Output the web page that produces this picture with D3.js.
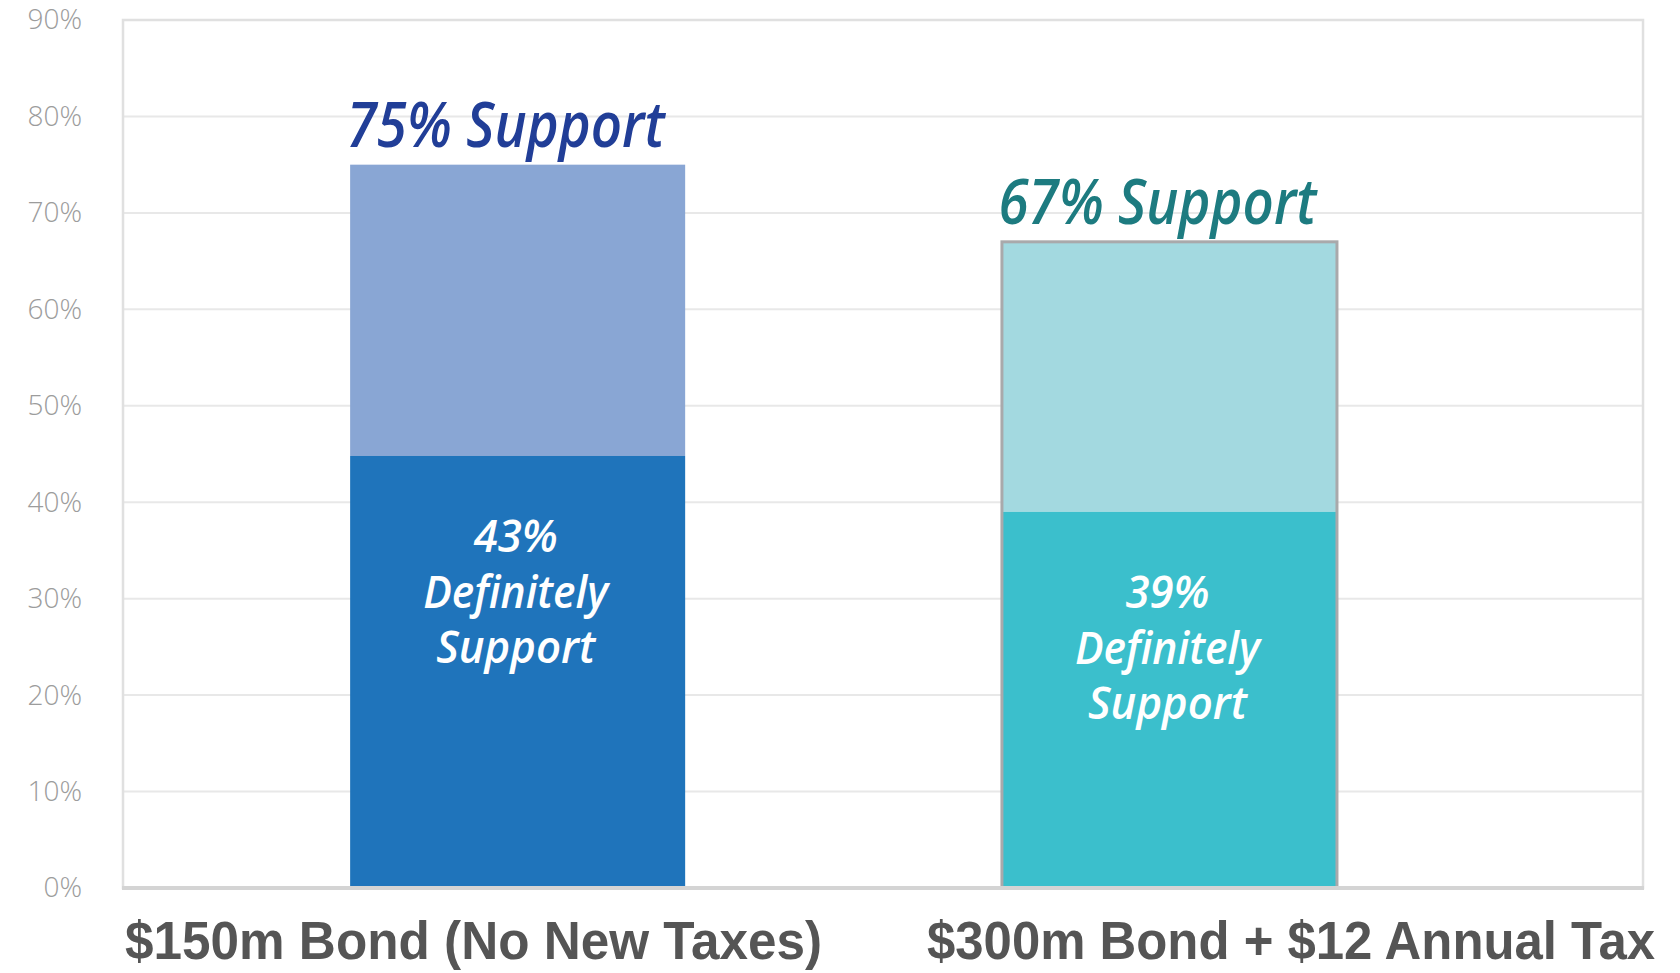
<!DOCTYPE html>
<html>
<head>
<meta charset="utf-8">
<script src="https://cdn.jsdelivr.net/npm/d3@7"></script>
<style>
    body { margin: 0; background: #fff; }
    .ytick text { font-family: "Open Sans", sans-serif; font-weight: 300; }
</style>
</head>
<body>
<div id="chart"></div>
<script>
// chart values
const categories = ["$150m Bond (No New Taxes)", "$300m Bond + $12 Annual Tax"];
const totalSupport = [75, 67];
const definitelySupport = [44.8, 39];
const totalLabels = ["75% Support", "67% Support"];
const definitelyLabels = [["43%", "Definitely", "Support"], ["39%", "Definitely", "Support"]];
const yTicks = [0, 10, 20, 30, 40, 50, 60, 70, 80, 90];

const lightColors = ["#89a6d4", "#a3d9e0"];
const darkColors = ["#1f74bb", "#3bbfcc"];
const headColors = ["#213e97", "#1d7b80"];

const W = 1680, H = 973;
const margin = {top: 20, right: 37, bottom: 85, left: 123};
const innerW = W - margin.left - margin.right;
const innerH = H - margin.top - margin.bottom;

const svg = d3.select("#chart").append("svg")
    .attr("width", W)
    .attr("height", H);

const g = svg.append("g")
    .attr("transform", `translate(${margin.left},${margin.top})`);

let x = d3.scaleBand()
    .domain(categories)
    .range([0, innerW])
    .paddingInner(0.486)
    .paddingOuter(0.409)
    .align(0.426);

let y = d3.scaleLinear()
    .domain([0, 90])
    .range([innerH, 0]);

// grid lines
g.selectAll(".grid")
    .data(yTicks.slice(1, -1))
    .enter()
    .append("line")
    .attr("class", "grid")
    .attr("x1", 0)
    .attr("x2", innerW)
    .attr("y1", d => y(d))
    .attr("y2", d => y(d))
    .attr("stroke", "#e8e8e8")
    .attr("stroke-width", 2);

// frame
g.append("rect")
    .attr("x", 0)
    .attr("y", 0)
    .attr("width", innerW)
    .attr("height", innerH)
    .attr("fill", "none")
    .attr("stroke", "#e0e0e0")
    .attr("stroke-width", 2.5);

// y labels
let yAxis = g.append("g")
    .attr("class", "ytick")
    .call(d3.axisLeft(y).tickValues(yTicks).tickSize(0).tickPadding(41).tickFormat(d => d + "%"));
yAxis.select(".domain").remove();
yAxis.selectAll("text")
    .attr("fill", "#9c9c9c")
    .style("font-size", "28px");

// stacked bars
let bars = g.selectAll(".bar")
    .data(categories)
    .enter()
    .append("g")
    .attr("class", "bar");

bars.append("rect")
    .attr("x", d => x(d))
    .attr("width", x.bandwidth())
    .attr("y", (d, i) => y(totalSupport[i]))
    .attr("height", (d, i) => y(definitelySupport[i]) - y(totalSupport[i]))
    .attr("fill", (d, i) => lightColors[i]);

bars.append("rect")
    .attr("x", d => x(d))
    .attr("width", x.bandwidth())
    .attr("y", (d, i) => y(definitelySupport[i]))
    .attr("height", (d, i) => innerH - y(definitelySupport[i]))
    .attr("fill", (d, i) => darkColors[i]);

// gray outline around the second bar
g.append("rect")
    .attr("x", x(categories[1]))
    .attr("width", x.bandwidth())
    .attr("y", y(totalSupport[1]))
    .attr("height", innerH - y(totalSupport[1]))
    .attr("fill", "none")
    .attr("stroke", "#a9a9ab")
    .attr("stroke-width", 3);

// bottom axis line
g.append("line")
    .attr("x1", -1)
    .attr("x2", innerW + 1)
    .attr("y1", innerH)
    .attr("y2", innerH)
    .attr("stroke", "#d4d4d4")
    .attr("stroke-width", 4);

// total labels above bars
const italicFont = "'Open Sans', 'Noto Sans', sans-serif";
bars.append("text")
    .attr("x", d => x(d) + x.bandwidth() / 2 - 12)
    .attr("y", (d, i) => y(totalSupport[i]) - 18)
    .attr("text-anchor", "middle")
    .attr("fill", (d, i) => headColors[i])
    .attr("textLength", 318)
    .attr("lengthAdjust", "spacingAndGlyphs")
    .style("font-family", italicFont)
    .style("font-style", "italic")
    .style("font-weight", 600)
    .style("font-size", "64px")
    .text((d, i) => totalLabels[i]);

// labels inside dark segments
const lineOffsets = [96, 152, 207];
const lineWidths = [84, 185, 159];
bars.each(function(d, i) {
    let cx = x(d) + x.bandwidth() / 2 - 2;
    let top = y(definitelySupport[i]);
    d3.select(this).selectAll(".inner")
        .data(definitelyLabels[i])
        .enter()
        .append("text")
        .attr("class", "inner")
        .attr("x", cx)
        .attr("y", (t, j) => top + lineOffsets[j])
        .attr("text-anchor", "middle")
        .attr("fill", "#ffffff")
        .attr("textLength", (t, j) => lineWidths[j])
        .attr("lengthAdjust", "spacingAndGlyphs")
        .style("font-family", italicFont)
        .style("font-style", "italic")
        .style("font-weight", 600)
        .style("font-size", "46px")
        .text(t => t);
});

// category labels
const catX = [2, 804];
const catWidths = [697, 728];
g.selectAll(".cat")
    .data(categories)
    .enter()
    .append("text")
    .attr("class", "cat")
    .attr("x", (d, i) => catX[i])
    .attr("y", innerH + 71)
    .attr("fill", "#555555")
    .attr("textLength", (d, i) => catWidths[i])
    .attr("lengthAdjust", "spacingAndGlyphs")
    .style("font-family", "'Liberation Sans', Arial, sans-serif")
    .style("font-weight", 700)
    .style("font-size", "53px")
    .text(d => d);
</script>
</body>
</html>
